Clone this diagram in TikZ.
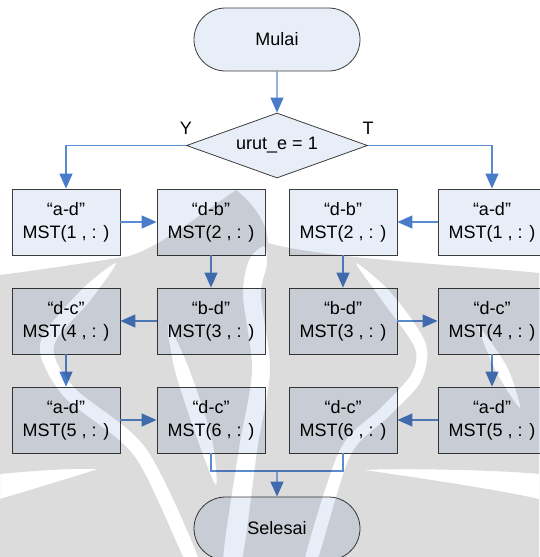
\documentclass[tikz,border=0pt]{standalone}
\usepackage{fontspec}
\setmainfont{Liberation Sans}
\usetikzlibrary{shapes.geometric,shapes.misc,arrows.meta}
\definecolor{boxfill}{HTML}{E8EEF7}
\definecolor{boxline}{HTML}{3C3C3C}
\definecolor{flow}{HTML}{5A8AD0}
\definecolor{tipcol}{HTML}{4A7BC8}

\begin{document}
\begin{tikzpicture}[x=1pt,y=-1pt,
  font=\fontsize{18}{23}\selectfont,
  proc/.style={draw=boxline, line width=0.8pt, fill=boxfill,
    minimum width=108pt, minimum height=66pt, align=center, inner sep=0pt},
  term/.style={draw=boxline, line width=0.8pt, fill=boxfill, rounded rectangle,
    minimum width=166pt, minimum height=63pt, inner sep=0pt},
  decide/.style={draw=boxline, line width=0.8pt, fill=boxfill, diamond,
    minimum width=181pt, minimum height=65pt, aspect=2.8, inner sep=0pt},
  flowline/.style={draw=flow, line width=1.2pt},
  flowarrow/.style={flowline, -{Triangle[width=13pt,length=15pt,color=tipcol]}},
  lbl/.style={inner sep=0pt},
  emblem/.style={fill=black, fill opacity=0.137, even odd rule},
]
\useasboundingbox (0,0) rectangle (539,557);

% start and decision
\node[term] (start) at (277,39.5) {Mulai};
\node[decide] (cond) at (277,145.5) {urut\_e = 1};
\node[lbl] (ylab) at (186,128) {Y};
\node[lbl] (tlab) at (368,128) {T};

% left branch (Y)
\node[proc] (a1) at (66,222)  {“a-d”\\MST(1 , : )};
\node[proc] (a2) at (211,222) {“d-b”\\MST(2 , : )};
\node[proc] (a3) at (211,321) {“b-d”\\MST(3 , : )};
\node[proc] (a4) at (66,321)  {“d-c”\\MST(4 , : )};
\node[proc] (a5) at (66,420)  {“a-d”\\MST(5 , : )};
\node[proc] (a6) at (211,420) {“d-c”\\MST(6 , : )};

% right branch (T)
\node[proc] (b1) at (492,222) {“a-d”\\MST(1 , : )};
\node[proc] (b2) at (343,222) {“d-b”\\MST(2 , : )};
\node[proc] (b3) at (343,321) {“b-d”\\MST(3 , : )};
\node[proc] (b4) at (492,321) {“d-c”\\MST(4 , : )};
\node[proc] (b5) at (492,420) {“a-d”\\MST(5 , : )};
\node[proc] (b6) at (343,420) {“d-c”\\MST(6 , : )};

\node[term] (stop) at (277,528.5) {Selesai};

% connectors
\draw[flowarrow] (start) -- (cond);
\draw[flowarrow] (cond.west) -| (a1.north);
\draw[flowarrow] (cond.east) -| (b1.north);
\draw[flowarrow] (a1) -- (a2);
\draw[flowarrow] (a2) -- (a3);
\draw[flowarrow] (a3) -- (a4);
\draw[flowarrow] (a4) -- (a5);
\draw[flowarrow] (a5) -- (a6);
\draw[flowarrow] (b1) -- (b2);
\draw[flowarrow] (b2) -- (b3);
\draw[flowarrow] (b3) -- (b4);
\draw[flowarrow] (b4) -- (b5);
\draw[flowarrow] (b5) -- (b6);
\coordinate (join) at (277,471);
\draw[flowline] (a6.south) |- (join) -| (b6.south);
\draw[flowarrow] (join) -- (stop);

% faint emblem laid over the page; the gaps between its leaves are holes
\path[emblem]
  (0,275) .. controls (40,270) and (90,262) .. (125,257)
    .. controls (155,250) and (190,222) .. (236,190)
    .. controls (255,205) and (268,225) .. (268,243)
    .. controls (300,252) and (360,258) .. (420,263)
    .. controls (470,267) and (510,270) .. (539,273)
    -- (539,600) -- (0,600) -- cycle
  plot[smooth cycle, tension=0.5] coordinates
    {(116,263) (90.5,300.4) (54,346) (74.6,387.8) (145.6,447.8) (200,562)
     (187,564) (134.4,456.2) (63.4,396.2) (40,343.9) (79.5,291.6)}
  plot[smooth cycle, tension=0.5] coordinates
    {(356,263) (390.8,292.4) (425.5,342.6) (421.2,381) (389.6,415.9)
     (350.2,456) (316,564) (304,562) (339.8,450) (380.4,408.1)
     (410.8,375) (414.5,347.4) (381.2,299.6)}
  plot[smooth cycle, tension=0.5] coordinates
    {(264,246) (267,263.8) (261,296) (270,370) (257,451.6) (241,564)
     (223,563) (239,448.4) (252,370) (243,296) (249,260.2)}
  plot[smooth cycle, tension=0.5] coordinates
    {(168,325) (188.7,367.9) (211.7,437.9) (216,485) (198.3,442.1)
     (175.3,372.1)}
  plot[smooth cycle, tension=0.5] coordinates
    {(478,326) (507.3,367.3) (520,408) (496.7,372.7)}
  (0,474) .. controls (40,470) and (80,468) .. (98,469)
    .. controls (70,478) and (30,490) .. (0,499) -- cycle
  (539,474) .. controls (500,470) and (400,468) .. (364,470)
    .. controls (420,478) and (500,490) .. (539,499) -- cycle;
\end{tikzpicture}
\end{document}
